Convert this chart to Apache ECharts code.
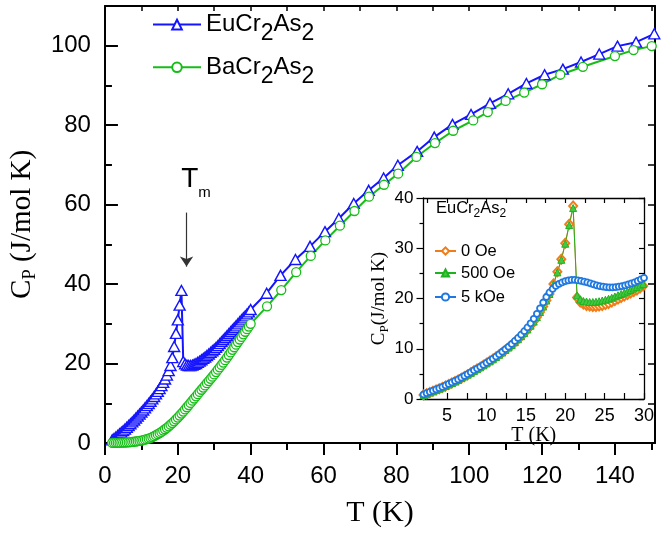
<!DOCTYPE html>
<html><head><meta charset="utf-8">
<script src="https://cdn.jsdelivr.net/npm/echarts@6/dist/echarts.min.js"></script>
<style>html,body{margin:0;padding:0;background:#fff}#c{width:664px;height:533px}</style>
</head><body><div id="c"></div>
<script>
// ---------- main panel data ----------
const euT = [2,2.5,3,3.5,4,4.5,5,5.5,6,6.5,7,7.5,8,8.5,9,9.5,10,10.5,11,11.5,12,12.5,13,13.5,14,14.5,15,15.5,16,16.5,17,17.5,18,18.5,19,19.5,20,20.5,21,21.5,22,22.5,23,23.5,24,24.5,25,25.5,26,26.5,27,27.5,28,28.5,29,29.5,30,30.5,31,31.5,32,32.5,33,33.5,34,34.5,35,35.5,36,36.5,37,37.5,38,38.5,39,39.5,40,
  44.4,48.2,52.3,56.3,60.4,64.2,68.3,72.4,76.5,80.4,85.7,90.4,95.4,100.5,105.7,110.7,115.7,120.7,125.7,130.7,135.7,140.7,145.8,150.8];
const euCp = [0.8,1.15,1.5,1.9,2.3,2.7,3.1,3.5,3.95,4.4,4.85,5.3,5.8,6.3,6.8,7.3,7.8,8.3,8.85,9.4,9.95,10.5,11.1,11.7,12.35,13.0,13.7,14.45,15.25,16.1,17.1,18.2,19.5,21.5,24.3,27.6,31.0,34.7,38.4,20.5,19.9,19.6,19.5,19.5,19.6,19.8,20.0,20.3,20.6,20.95,21.3,21.65,22.0,22.4,22.8,23.2,23.6,24.05,24.5,25.0,25.5,26.0,26.5,27.0,27.5,28.0,28.5,29.0,29.5,30.0,30.5,31.0,31.5,32.0,32.5,33.0,33.6,
  37.7,42.2,46.2,49.5,53.2,56.5,60.3,63.6,66.7,69.9,73.4,77.0,80.2,82.7,85.5,87.9,90.5,92.7,94.1,95.9,97.9,99.9,100.9,103.0];
const baT = [2,2.5,3,3.5,4,4.5,5,5.5,6,6.5,7,7.5,8,8.5,9,9.5,10,10.5,11,11.5,12,12.5,13,13.5,14,14.5,15,15.5,16,16.5,17,17.5,18,18.5,19,19.5,20,20.5,21,21.5,22,22.5,23,23.5,24,24.5,25,25.5,26,26.5,27,27.5,28,28.5,29,29.5,30,30.5,31,31.5,32,32.5,33,33.5,34,34.5,35,35.5,36,36.5,37,37.5,38,38.5,39,39.5,40,
  44.5,48.4,52.5,56.5,60.5,64.5,68.5,72.5,76.6,80.5,85.5,90.6,95.6,101.1,105.1,110.0,115.1,120.0,125.0,131.2,140.0,145.1,150.1];
const baCp = [0.02,0.03,0.04,0.05,0.06,0.08,0.1,0.12,0.15,0.18,0.22,0.27,0.32,0.38,0.45,0.53,0.62,0.72,0.84,0.97,1.12,1.3,1.5,1.72,1.96,2.22,2.5,2.8,3.12,3.46,3.82,4.2,4.6,5.02,5.46,5.92,6.4,6.9,7.4,7.92,8.45,9.0,9.55,10.1,10.65,11.2,11.75,12.3,12.85,13.4,13.95,14.5,15.05,15.6,16.15,16.7,17.25,17.85,18.45,19.05,19.65,20.25,20.85,21.5,22.15,22.8,23.45,24.1,24.75,25.4,26.05,26.7,27.35,28.0,28.65,29.3,30.0,
  34.4,38.5,43.0,47.1,51.0,54.7,58.4,62.0,65.0,67.8,72.0,75.5,78.6,81.2,83.3,86.1,88.2,90.3,92.7,94.7,97.4,98.9,99.9];

// ---------- inset data ----------
const insetT = [2.0,2.4,2.8,3.2,3.6,4.0,4.4,4.8,5.2,5.6,6.0,6.4,6.8,7.2,7.6,8.0,8.4,8.8,9.2,9.6,10.0,10.4,10.8,11.2,11.6,12.0,12.4,12.8,13.2,13.6,14.0,14.4,14.8,15.2,15.6,16.0,16.4,16.8,17.2,17.6,18.0,
  18.5,19.0,19.5,20.0,20.5,21.0,21.5,
  21.9,22.3,22.7,23.1,23.5,23.9,24.3,24.7,25.1,25.5,25.9,26.3,26.7,27.1,27.5,27.9,28.3,28.7,29.1,29.5,29.9];
const cp0Oe = [0.8,1.05,1.3,1.55,1.8,2.05,2.3,2.6,2.9,3.2,3.5,3.8,4.15,4.5,4.85,5.2,5.6,5.95,6.3,6.7,7.1,7.5,7.9,8.35,8.8,9.25,9.75,10.25,10.75,11.3,11.9,12.5,13.15,13.85,14.6,15.4,16.3,17.3,18.4,19.6,20.9,
  22.9,25.3,27.8,31.0,34.8,38.4,20.2,
  19.3,18.9,18.6,18.5,18.4,18.4,18.5,18.6,18.8,19.0,19.3,19.6,19.9,20.2,20.5,20.8,21.1,21.4,21.7,22.1,22.5];
const cp500Oe = [0.8,1.05,1.3,1.55,1.8,2.05,2.3,2.6,2.9,3.2,3.5,3.8,4.15,4.5,4.85,5.2,5.6,5.95,6.3,6.7,7.1,7.5,7.9,8.35,8.8,9.25,9.75,10.25,10.75,11.3,11.9,12.5,13.15,13.85,14.6,15.4,16.3,17.3,18.4,19.6,20.9,
  22.8,25.2,27.7,30.9,34.6,38.0,20.6,
  19.8,19.5,19.4,19.3,19.3,19.35,19.45,19.6,19.75,19.95,20.15,20.4,20.65,20.9,21.15,21.4,21.7,22.0,22.3,22.6,22.9];
const insetT5k = [2.0,2.4,2.8,3.2,3.6,4.0,4.4,4.8,5.2,5.6,6.0,6.4,6.8,7.2,7.6,8.0,8.4,8.8,9.2,9.6,10.0,10.4,10.8,11.2,11.6,12.0,12.4,12.8,13.2,13.6,14.0,14.4,14.8,15.2,15.6,16.0,16.4,16.8,17.2,17.6,18.0,
  18.4,18.8,19.2,19.6,20.0,20.4,20.8,21.2,21.6,22.0,22.4,22.8,23.2,23.6,24.0,24.4,24.8,25.2,25.6,26.0,26.4,26.8,27.2,27.6,28.0,28.4,28.8,29.2,29.6,30.0];
const cp5kOe = [0.9,1.15,1.4,1.65,1.9,2.15,2.4,2.7,3.0,3.3,3.6,3.9,4.25,4.6,4.95,5.3,5.7,6.05,6.4,6.8,7.2,7.6,8.0,8.45,8.9,9.4,9.9,10.4,10.95,11.55,12.15,12.8,13.5,14.25,15.05,15.95,16.95,18.05,19.2,20.3,21.2,
  21.9,22.5,22.9,23.2,23.45,23.6,23.7,23.7,23.6,23.5,23.35,23.2,23.0,22.8,22.6,22.45,22.35,22.25,22.2,22.2,22.25,22.35,22.45,22.6,22.8,23.0,23.2,23.5,23.8,24.1];

// ---------- tick values ----------
const mainXTicks = [0,20,40,60,80,100,120,140];
const mainXMinor = [10,30,50,70,90,110,130,150];
const mainTopTicks = [10,20,30,40,50,60,70,80,90,100,110,120,130,140,150];
const mainYTicks = [0,20,40,60,80,100];
const mainYMinor = [10,30,50,70,90];
const mainRightTicks = [10,20,30,40,50,60,70,80,90,100];
const insetXLabels = [5,10,15,20,25,30];
const insetXTicks = [2.5,5,7.5,10,12.5,15,17.5,20,22.5,25,27.5,30];

const arrowT = 22.4, arrowTop = 58.0, arrowTip = 44.4;

const zip = (xs, ys) => xs.map((x, i) => [x, ys[i]]);
const SANS = "'Liberation Sans', Arial, sans-serif";
const SERIF = "'Liberation Serif', 'Times New Roman', serif";
const EU = '#1414ff', BA = '#17bd17', OR = '#f07d19', GR = '#1fb21f', BL = '#1f78e0';

const legendNames = {
  'EuCr2As2': '{a|EuCr}{s|2}{a|As}{s|2}',
  'BaCr2As2': '{a|BaCr}{s|2}{a|As}{s|2}'
};
const mainLegendRich = {
  a: {fontSize: 24, fontFamily: SANS, color: '#000', lineHeight: 41},
  s: {fontSize: 23, fontFamily: SANS, color: '#000', verticalAlign: 'bottom'}
};
function mainLegend(name, top) {
  return {data: [name], left: 152, top: top, padding: 0, itemWidth: 48, itemHeight: 12,
    selectedMode: false, formatter: n => legendNames[n], textStyle: {rich: mainLegendRich}};
}
function insetLegend(name, top) {
  return {data: [name], left: 434, top: top, padding: 0, itemWidth: 21, itemHeight: 9,
    selectedMode: false, textStyle: {fontSize: 16.5, fontFamily: SANS, color: '#000', lineHeight: 18}};
}
const blank = {show: false};
function xAx(o) { return Object.assign({type: 'value', splitLine: blank, axisLabel: blank}, o); }

const option = {
  animation: false,
  backgroundColor: '#fff',
  grid: [
    {left: 104, right: 9, top: 6, bottom: 85},
    {left: 423.5, right: 20, top: 198, bottom: 134}
  ],
  xAxis: [
    xAx({gridIndex: 0, min: 0, max: 151, position: 'bottom',
      axisLine: {show: true, onZero: false, lineStyle: {color: '#000', width: 2}},
      axisTick: {show: true, inside: false, length: 12, customValues: mainXTicks, lineStyle: {color: '#000', width: 2}},
      axisLabel: {show: true, customValues: mainXTicks, fontSize: 24, fontFamily: SANS, color: '#000', margin: 21},
      name: 'T (K)', nameLocation: 'middle', nameGap: 55,
      nameTextStyle: {fontFamily: SERIF, fontSize: 30, color: '#000'}}),
    xAx({gridIndex: 0, min: 0, max: 151, position: 'bottom',
      axisLine: {show: false, onZero: false},
      axisTick: {show: true, inside: false, length: 7, customValues: mainXMinor, lineStyle: {color: '#000', width: 2}}}),
    xAx({gridIndex: 0, min: 0, max: 151, position: 'top',
      axisLine: {show: true, onZero: false, lineStyle: {color: '#000', width: 2}},
      axisTick: {show: true, inside: true, length: 5, customValues: mainTopTicks, lineStyle: {color: '#000', width: 1.5}}}),
    xAx({gridIndex: 1, min: 2, max: 30, position: 'bottom',
      axisLine: {show: true, onZero: false, lineStyle: {color: '#000', width: 1.3}},
      axisTick: {show: true, inside: true, length: 6, customValues: insetXTicks, lineStyle: {color: '#000', width: 1.2}},
      axisLabel: {show: true, customValues: insetXLabels, fontSize: 18, fontFamily: SANS, color: '#000', margin: 8},
      name: 'T (K)', nameLocation: 'middle', nameGap: 21,
      nameTextStyle: {fontFamily: SERIF, fontSize: 20, color: '#000'}}),
    xAx({gridIndex: 1, min: 2, max: 30, position: 'top',
      axisLine: {show: true, onZero: false, lineStyle: {color: '#000', width: 1.3}},
      axisTick: {show: true, inside: true, length: 5, customValues: insetXTicks, lineStyle: {color: '#000', width: 1.2}}})
  ],
  yAxis: [
    xAx({gridIndex: 0, min: 0, max: 110, position: 'left',
      axisLine: {show: true, onZero: false, lineStyle: {color: '#000', width: 2}},
      axisTick: {show: true, inside: true, length: 13, customValues: mainYTicks, lineStyle: {color: '#000', width: 2}},
      axisLabel: {show: true, customValues: mainYTicks, fontSize: 24, fontFamily: SANS, color: '#000', margin: 14},
      name: '{a|C}{s|P}{a| (J/mol K)}', nameLocation: 'middle', nameRotate: 90, nameGap: 58,
      nameTextStyle: {rich: {
        a: {fontFamily: SERIF, fontSize: 29, color: '#000', lineHeight: 35},
        s: {fontFamily: SERIF, fontSize: 19, color: '#000', verticalAlign: 'bottom'}}}}),
    xAx({gridIndex: 0, min: 0, max: 110, position: 'left',
      axisLine: {show: false, onZero: false},
      axisTick: {show: true, inside: true, length: 7, customValues: mainYMinor, lineStyle: {color: '#000', width: 2}}}),
    xAx({gridIndex: 0, min: 0, max: 110, position: 'right',
      axisLine: {show: true, onZero: false, lineStyle: {color: '#000', width: 2}},
      axisTick: {show: true, inside: true, length: 7, customValues: mainRightTicks, lineStyle: {color: '#000', width: 1.5}}}),
    xAx({gridIndex: 1, min: 0, max: 40, interval: 10, position: 'left',
      axisLine: {show: true, onZero: false, lineStyle: {color: '#000', width: 1.3}},
      axisTick: {show: true, inside: false, length: 7, lineStyle: {color: '#000', width: 1.2}},
      minorTick: {show: true, splitNumber: 2, length: 4, lineStyle: {color: '#000', width: 1.2}},
      minorSplitLine: blank,
      axisLabel: {show: true, fontSize: 17, fontFamily: SANS, color: '#000', margin: 10},
      name: '{a|C}{s|P}{a|(J/mol K)}', nameLocation: 'middle', nameRotate: 90, nameGap: 27,
      nameTextStyle: {rich: {
        a: {fontFamily: SERIF, fontSize: 19, color: '#000', lineHeight: 23},
        s: {fontFamily: SERIF, fontSize: 13, color: '#000', verticalAlign: 'bottom'}}}}),
    xAx({gridIndex: 1, min: 0, max: 40, interval: 5, position: 'right',
      axisLine: {show: true, onZero: false, lineStyle: {color: '#000', width: 1.3}},
      axisTick: {show: true, inside: true, length: 5, lineStyle: {color: '#000', width: 1.2}}})
  ],
  legend: [
    mainLegend('EuCr2As2', 12.6),
    mainLegend('BaCr2As2', 55.3),
    insetLegend('0 Oe', 242),
    insetLegend('500 Oe', 264),
    insetLegend('5 kOe', 288)
  ],
  graphic: [{
    type: 'text', left: 436, top: 200, silent: true,
    style: {text: '{a|EuCr}{s|2}{a|As}{s|2}', rich: {
      a: {fontSize: 16.5, fontFamily: SANS, fill: '#000', lineHeight: 22},
      s: {fontSize: 12, fontFamily: SANS, fill: '#000', verticalAlign: 'bottom'}}}
  }],
  series: [
    {type: 'line', name: 'EuCr2As2', xAxisIndex: 0, yAxisIndex: 0, data: zip(euT, euCp),
      symbol: 'triangle', symbolSize: [11, 10], lineStyle: {color: EU, width: 2},
      itemStyle: {color: '#fff', borderColor: EU, borderWidth: 1.4}, emphasis: {disabled: true},
      markLine: {silent: true, symbol: ['none', 'arrow'], symbolSize: 10, animation: false,
        lineStyle: {color: '#333', width: 1.2, type: 'solid'},
        label: {show: true, position: 'start', distance: 12, padding: [0, 0, 0, 19],
          formatter: '{t|T}{m|m}', rich: {
            t: {fontSize: 28, fontFamily: SANS, color: '#000', lineHeight: 42},
            m: {fontSize: 15, fontFamily: SANS, color: '#000', verticalAlign: 'bottom'}}},
        emphasis: {disabled: true},
        data: [[{coord: [arrowT, arrowTop]}, {coord: [arrowT, arrowTip]}]]}},
    {type: 'scatter', name: 'euDot', xAxisIndex: 0, yAxisIndex: 0, data: zip(euT, euCp), silent: true,
      symbol: 'circle', symbolSize: 1.8, itemStyle: {color: EU}},
    {type: 'line', name: 'BaCr2As2', xAxisIndex: 0, yAxisIndex: 0, data: zip(baT, baCp),
      symbol: 'circle', symbolSize: 9, lineStyle: {color: BA, width: 2},
      itemStyle: {color: '#fff', borderColor: BA, borderWidth: 1.3}, emphasis: {disabled: true}},
    {type: 'scatter', name: 'baDot', xAxisIndex: 0, yAxisIndex: 0, data: zip(baT, baCp), silent: true,
      symbol: 'circle', symbolSize: 1.8, itemStyle: {color: BA}},
    {type: 'line', name: '0 Oe', xAxisIndex: 3, yAxisIndex: 3, data: zip(insetT, cp0Oe),
      symbol: 'diamond', symbolSize: [8, 9], lineStyle: {color: OR, width: 1},
      itemStyle: {color: '#fff', borderColor: OR, borderWidth: 2}, emphasis: {disabled: true}},
    {type: 'line', name: '500 Oe', xAxisIndex: 3, yAxisIndex: 3, data: zip(insetT, cp500Oe),
      symbol: 'triangle', symbolSize: 7, lineStyle: {color: GR, width: 1},
      itemStyle: {color: '#45c845', borderColor: GR, borderWidth: 1}, emphasis: {disabled: true}},
    {type: 'line', name: '5 kOe', xAxisIndex: 3, yAxisIndex: 3, data: zip(insetT5k, cp5kOe),
      symbol: 'circle', symbolSize: 6, lineStyle: {color: BL, width: 1},
      itemStyle: {color: '#fff', borderColor: BL, borderWidth: 1.8}, emphasis: {disabled: true}}
  ]
};
echarts.init(document.getElementById('c')).setOption(option);
</script></body></html>
